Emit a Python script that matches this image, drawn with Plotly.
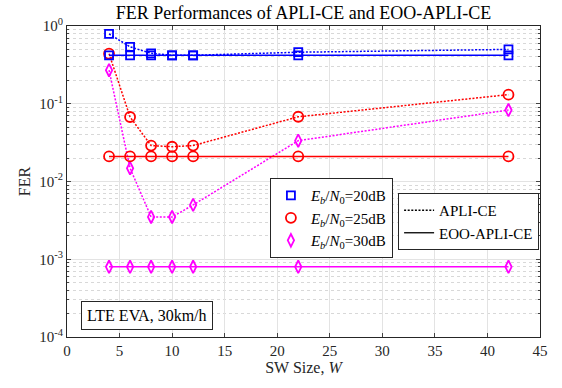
import plotly.graph_objects as go

W = [4, 6, 8, 10, 12, 22, 42]

apli_20 = [0.79, 0.54, 0.445, 0.42, 0.42, 0.46, 0.50]
apli_25 = [0.44, 0.0675, 0.029, 0.028, 0.029, 0.068, 0.131]
apli_30 = [0.27, 0.0148, 0.0035, 0.0035, 0.0050, 0.0335, 0.083]

eoo_20 = [0.42, 0.42, 0.42, 0.42, 0.42, 0.42, 0.42]
eoo_25 = [0.021, 0.021, 0.021, 0.021, 0.021, 0.021, 0.021]
eoo_30 = [0.0008, 0.0008, 0.0008, 0.0008, 0.0008, 0.0008, 0.0008]

snr_labels = ["<i>E</i><sub><i>b</i></sub>/<i>N</i><sub>0</sub>=20dB",
              "<i>E</i><sub><i>b</i></sub>/<i>N</i><sub>0</sub>=25dB",
              "<i>E</i><sub><i>b</i></sub>/<i>N</i><sub>0</sub>=30dB"]
method_labels = ["APLI-CE", "EOO-APLI-CE"]

y_tickvals = [1e-4, 1e-3, 1e-2, 1e-1, 1]
y_ticktext = ["10<sup>-4</sup>", "10<sup>-3</sup>", "10<sup>-2</sup>", "10<sup>-1</sup>", "10<sup>0</sup>"]
x_tickvals = [0, 5, 10, 15, 20, 25, 30, 35, 40, 45]

colors = ["#0000ff", "#ff0000", "#ff00ff"]
symbols = ["square-open", "circle-open", "diamond-tall-open"]
msizes = [8, 10, 9]

FONT = "Liberation Serif"
DOT = "2px,1.6px"

fig = go.Figure()

for ys, c, s, ms in zip([apli_20, apli_25, apli_30], colors, symbols, msizes):
    fig.add_trace(go.Scatter(x=W, y=ys, mode="lines+markers",
                             line=dict(color=c, width=1.5, dash=DOT),
                             marker=dict(symbol=s, size=ms, color=c, line=dict(width=1.8, color=c)),
                             showlegend=False))
for ys, c, s, ms in zip([eoo_20, eoo_25, eoo_30], colors, symbols, msizes):
    fig.add_trace(go.Scatter(x=W, y=ys, mode="lines+markers",
                             line=dict(color=c, width=1.6),
                             marker=dict(symbol=s, size=ms, color=c, line=dict(width=1.8, color=c)),
                             showlegend=False))

# legend 1: markers
for lab, c, s, ms in zip(snr_labels, colors, symbols, msizes):
    fig.add_trace(go.Scatter(x=[None], y=[None], mode="markers", name=lab,
                             marker=dict(symbol=s, size=ms, color=c, line=dict(width=1.8, color=c)),
                             legend="legend"))
# legend 2: line styles
for lab, d in zip(method_labels, [DOT, "solid"]):
    fig.add_trace(go.Scatter(x=[None], y=[None], mode="lines", name=lab,
                             line=dict(color="black", width=1.3, dash=d),
                             legend="legend2"))

minor_vals = []
for e in range(-4, 0):
    for m in range(2, 10):
        minor_vals.append(m * 10 ** e)

fig.update_layout(
    width=562, height=388,
    margin=dict(l=67, r=22, t=26, b=51, autoexpand=False),
    paper_bgcolor="white", plot_bgcolor="white",
    font=dict(family=FONT, size=14, color="#262626"),
    title=dict(text="FER Performances of APLI-CE and EOO-APLI-CE",
               x=0.54, xanchor="center", y=0.968, yanchor="middle",
               font=dict(family=FONT, size=18, color="black")),
    xaxis=dict(range=[0, 45], tickvals=x_tickvals, ticks="inside", ticklen=4,
               showline=True, linecolor="#262626", linewidth=1, mirror="ticks",
               showgrid=True, gridcolor="#e3e3e3", gridwidth=1, zeroline=False,
               automargin=False, tickfont=dict(family=FONT, size=15),
               title=dict(text="SW Size, <i>W</i>", standoff=2, font=dict(family=FONT, size=16))),
    yaxis=dict(type="log", range=[-4, 0], tickvals=y_tickvals, ticktext=y_ticktext,
               ticks="inside", ticklen=4, automargin=False,
               tickfont=dict(family=FONT, size=15),
               showline=True, linecolor="#262626", linewidth=1, mirror="ticks",
               showgrid=True, gridcolor="#e3e3e3", gridwidth=1, zeroline=False,
               minor=dict(tickmode="array", tickvals=minor_vals, ticks="inside", ticklen=2,
                          showgrid=True, gridcolor="#d8d8d8", griddash="dot", gridwidth=1),
               title=dict(text="FER", standoff=4, font=dict(family=FONT, size=16))),
    legend=dict(x=0.429, y=0.511, xanchor="left", yanchor="top",
                bgcolor="white", bordercolor="#262626", borderwidth=1,
                font=dict(family=FONT, size=15, color="black"),
                tracegroupgap=0, itemsizing="trace"),
    legend2=dict(x=0.70, y=0.463, xanchor="left", yanchor="top",
                 bgcolor="white", bordercolor="#262626", borderwidth=1,
                 font=dict(family=FONT, size=15, color="black")),
    annotations=[dict(text="LTE EVA, 30km/h", xref="paper", yref="paper",
                      x=0.17, y=0.068, xanchor="center", yanchor="middle",
                      showarrow=False, bgcolor="white", bordercolor="#262626",
                      borderwidth=1, borderpad=5,
                      font=dict(family=FONT, size=16, color="black"))],
)

fig.write_html("out.html", config={"displayModeBar": False},
               post_script="document.body.style.margin='0px';")
